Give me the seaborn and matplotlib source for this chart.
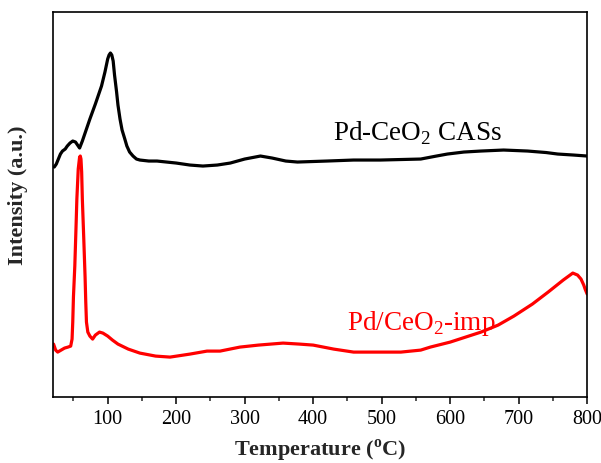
import numpy as np
import pandas as pd
import matplotlib
matplotlib.use("Agg")
import matplotlib.pyplot as plt
import seaborn as sns
from matplotlib.ticker import MultipleLocator

# Pd-CeO2 CASs (black)
cas_temp = [22, 25, 28, 31, 34, 38, 41, 45, 49, 53, 56, 59, 63, 68, 74, 82, 91, 96, 100,
            102, 104, 106, 108, 110, 113, 115, 118, 121, 125, 128, 132, 137, 142, 147,
            160, 172, 200, 220, 239, 260, 279, 300, 323, 340, 360, 377, 420, 459, 498,
            557, 580, 596, 620, 645, 678, 713, 740, 757, 780, 800]
cas_int = [230, 233, 238, 243, 246, 248, 251, 254, 256, 255, 252, 249, 256, 266, 278, 293,
           311, 325, 338, 342, 344, 342, 336, 322, 305, 292, 278, 267, 258, 251, 245, 241,
           238, 237, 236, 236, 234, 232, 231, 232, 234, 238, 241, 239, 236, 235, 236, 237,
           237, 238, 241, 243, 245, 246, 247, 246, 244.5, 243, 242, 241]

# Pd/CeO2-imp (red)
imp_temp = [20, 21, 24, 27, 32, 37, 42, 46, 48, 49, 50, 52, 54, 55, 57, 59, 60, 61, 62,
            63, 65, 67, 68, 69, 71, 74, 78, 82, 88, 93, 100, 107, 115, 130, 147, 170,
            191, 220, 245, 264, 293, 320, 356, 380, 400, 430, 459, 498, 528, 557, 571,
            600, 645, 670, 693, 720, 743, 765, 779, 786, 791, 795, 797, 800]
imp_int = [53, 53, 47, 45, 47, 49, 50, 51, 58, 75, 100, 131, 175, 198, 228, 240, 241, 238,
           225, 198, 160, 120, 95, 75, 65, 61, 58, 62, 65, 64, 61, 57, 53, 48, 44, 41, 40,
           43, 46, 46, 50, 52, 54, 53, 52, 48, 45, 45, 45, 47, 50, 55, 65, 72, 81, 93,
           105, 117, 124, 122, 118, 112, 108, 103]

df_cas = pd.DataFrame({"Temperature": cas_temp, "Intensity": cas_int})
df_imp = pd.DataFrame({"Temperature": imp_temp, "Intensity": imp_int})

sns.set_theme(style="white")
plt.rcParams["font.family"] = ["Liberation Serif", "DejaVu Serif"]
plt.rcParams["mathtext.fontset"] = "custom"
plt.rcParams["mathtext.rm"] = "Liberation Serif"
plt.rcParams["mathtext.bf"] = "Liberation Serif:bold"

fig = plt.figure(figsize=(6.01, 4.64), dpi=100)
ax = fig.add_axes([0.088, 0.142, 0.889, 0.830])

sns.lineplot(data=df_cas, x="Temperature", y="Intensity", color="black", linewidth=2.3, ax=ax)
sns.lineplot(data=df_imp, x="Temperature", y="Intensity", color="#ff0000", linewidth=2.3, ax=ax)

# curve labels
ax.text(429, 258, "Pd-CeO$_2$ CASs", fontsize=19.5, color="black")
ax.text(450, 68, "Pd/CeO$_2$-imp", fontsize=19.5, color="#ff0000")

ax.set_xlim(20, 800)
ax.set_ylim(0, 385)
ax.set_yticks([])
ax.xaxis.set_major_locator(MultipleLocator(100))
ax.xaxis.set_minor_locator(MultipleLocator(50))
ax.set_xticks([100, 200, 300, 400, 500, 600, 700, 800])
ax.tick_params(axis="x", which="major", direction="out", length=5, width=1.1,
               labelsize=14.5, bottom=True, colors="black")
ax.tick_params(axis="x", which="minor", direction="out", length=3, width=1.1, bottom=True)
for s in ax.spines.values():
    s.set_color("black")
    s.set_linewidth(1.2)

ax.set_xlabel("Temperature ($^{\\mathbf{o}}$C)", fontsize=16, fontweight="bold", labelpad=6)
ax.set_ylabel("Intensity (a.u.)", fontsize=16, fontweight="bold")
ax.yaxis.set_label_coords(-0.047, 0.527)

fig.savefig("out.png", dpi=100)
